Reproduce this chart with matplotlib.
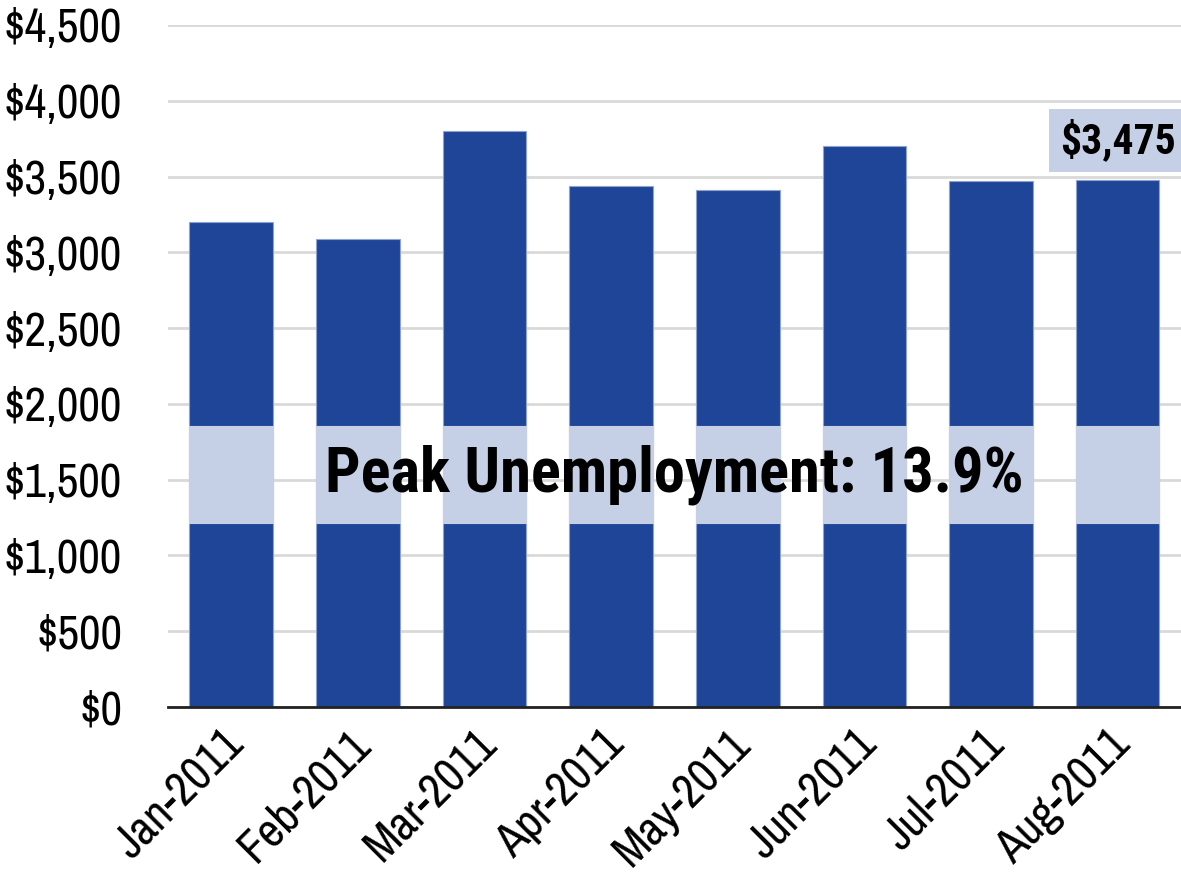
import matplotlib
matplotlib.use("Agg")
import matplotlib.pyplot as plt
import matplotlib.transforms as mtransforms
from matplotlib.ticker import FuncFormatter
from matplotlib import font_manager

months = ["Jan-2011", "Feb-2011", "Mar-2011", "Apr-2011", "May-2011", "Jun-2011", "Jul-2011", "Aug-2011"]
values = [3200, 3090, 3800, 3440, 3410, 3700, 3470, 3475]
band_low, band_high = 1215, 1855
band_label = "Peak Unemployment: 13.9%"
last_label = "$3,475"

names = {f.name for f in font_manager.fontManager.ttflist}
def pick(cands):
    return [f for f in cands if f in names] + ["DejaVu Sans"]

reg_fam = pick(["Liberation Sans Narrow", "Archivo Narrow", "Roboto Condensed"])
bold_fam = pick(["Liberation Sans Narrow", "Roboto Condensed", "PT Sans Narrow"])
plt.rcParams['font.family'] = reg_fam

bar_color = "#1F4599"
band_color = "#C5D0E6"

fig = plt.figure(figsize=(11.81, 8.76), dpi=100)
ax = fig.add_axes([0.1422, 0.193, 0.8578, 0.7785])

x = list(range(len(months)))
ax.bar(x, values, width=0.66, color=bar_color, edgecolor="#8FA3D0", linewidth=0.8, zorder=2)
ax.bar(x, [band_high - band_low] * len(x), bottom=band_low, width=0.66,
       color=band_color, edgecolor=band_color, linewidth=0.8, zorder=3)

ax.text(3.5, (band_low + band_high) / 2, band_label, ha="center", va="center",
        fontsize=45, fontweight="bold", family=bold_fam, color="black", zorder=5)

ax.text(7, 3738, last_label, ha="center", va="center", fontsize=30, fontweight="bold",
        family=bold_fam, color="black", zorder=5,
        bbox=dict(boxstyle="square,pad=0.25", facecolor=band_color, edgecolor="none"))

ax.set_xlim(-0.5, 7.5)
ax.set_ylim(0, 4500)
ax.set_yticks(range(0, 4501, 500))
ax.yaxis.set_major_formatter(FuncFormatter(lambda v, p: "${:,.0f}".format(v)))
ax.grid(axis="y", color="#D9D9D9", linewidth=2, zorder=0)
ax.set_axisbelow(True)
for s in ["top", "right", "left"]:
    ax.spines[s].set_visible(False)
ax.spines["bottom"].set_color("#222222")
ax.spines["bottom"].set_linewidth(2)
ax.spines["bottom"].set_zorder(6)

ax.tick_params(axis="y", length=0, pad=33, labelsize=34)
ax.tick_params(axis="x", length=0, pad=12, labelsize=34)
ax.set_xticks(x)
ax.set_xticklabels(months, rotation=45, ha="right", rotation_mode="anchor")
offset = mtransforms.ScaledTranslation(-10 / 100, 2 / 100, fig.dpi_scale_trans)
for lab in ax.get_xticklabels():
    lab.set_transform(lab.get_transform() + offset)

fig.savefig("out.png", dpi=100)
